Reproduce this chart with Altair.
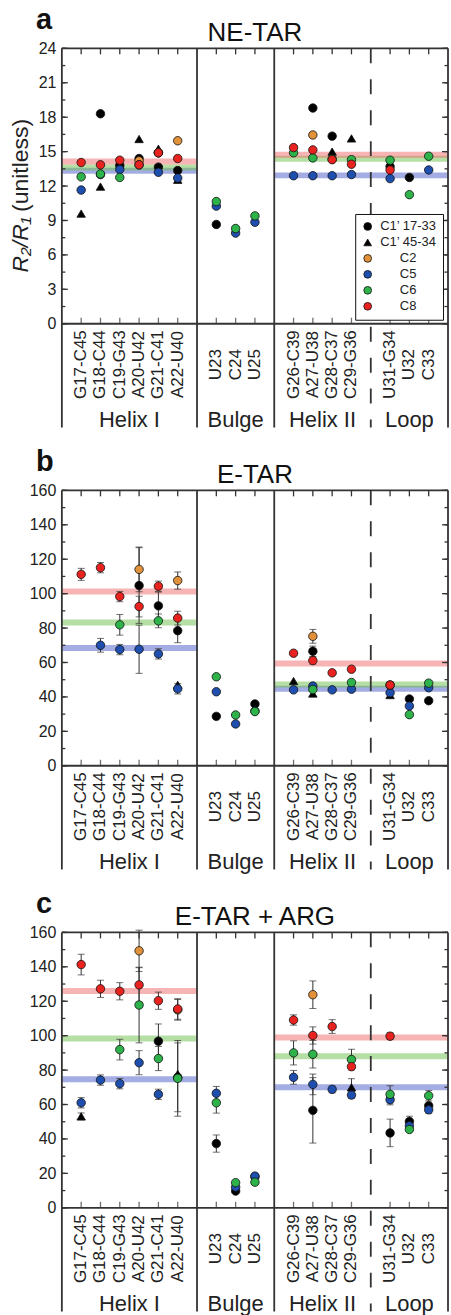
import altair as alt
import pandas as pd

FONT = "Liberation Sans"
N = None

CATEGORIES = ["G17-C45", "G18-C44", "C19-G43", "A20-U42", "G21-C41", "A22-U40",
              "U23", "C24", "U25",
              "G26-C39", "A27-U38", "G28-C37", "C29-G36",
              "U31-G34", "U32", "C33"]
POSITIONS = [1, 2, 3, 4, 5, 6, 8, 9, 10, 12, 13, 14, 15, 17, 18, 19]
GROUPS = ["Helix I", "Bulge", "Helix II", "Loop"]
GROUP_CENTERS = [3.5, 9, 13.5, 18]
SOLID_DIVIDERS = [0, 7, 11, 20]
DASHED_DIVIDERS = [16]
SEGMENT_STARTS = [0, 11]
SEGMENT_ENDS = [7, 20]

SERIES = ["C1\u2019 17-33", "C1\u2019 45-34", "C2", "C5", "C6", "C8"]
SERIES_COLORS = ["#000000", "#000000", "#e0913a", "#1f4fae", "#2eb34a", "#e8231f"]
SERIES_SHAPES = ["circle", "triangle-up", "circle", "circle", "circle", "circle"]
MEAN_SERIES = ["C5", "C6", "C8"]
MEAN_COLORS = ["#4a5cc8", "#6cc04a", "#f06a6a"]

# ---------------- Panel a: NE-TAR ----------------
A_BLACK = [N, 18.3, 13.8, 14.4, 13.65, 13.35, 8.65, N, N, N, 18.8, 16.35, N, 13.7, 12.75, N]
A_TRI = [9.6, 11.95, N, 16.1, 15.25, 12.55, N, N, N, N, N, 15.0, 16.15, N, N, N]
A_C2 = [N, N, N, 14.2, 14.9, 15.95, N, N, N, N, 16.45, N, N, N, N, N]
A_C5 = [11.65, 13.0, 13.45, 13.85, 13.2, 12.7, 10.25, 7.9, 8.85, 12.9, 12.9, 12.9, 13.0, 12.65, N, 13.4]
A_C6 = [12.8, 13.05, 12.75, N, 14.9, N, 10.65, 8.3, 9.4, 14.9, 14.45, 14.35, 14.3, 14.25, 11.25, 14.6]
A_C8 = [14.05, 13.85, 14.25, 13.85, 14.9, 14.4, N, N, N, 15.35, 15.15, 14.3, 13.9, 13.4, N, N]
A_ZERO = [0] * 16
A_MEAN_C5 = [13.33, 12.93]
A_MEAN_C6 = [13.62, 14.38]
A_MEAN_C8 = [14.14, 14.72]

# ---------------- Panel b: E-TAR ----------------
B_BLACK = [N, N, N, 104.7, 92.9, 78.5, 28.7, N, 35.9, N, 66.5, N, N, N, 38.8, 37.8]
B_BLACK_ERR = [0, 0, 0, 22, 8, 7, 0, 0, 0, 0, 3, 0, 0, 0, 0, 0]
B_TRI = [N, N, N, N, N, 47.0, N, N, N, 49.2, 42.0, N, N, 41.1, N, N]
B_TRI_ERR = [0] * 16
B_C2 = [N, N, N, 114.1, N, 107.6, N, N, N, N, 75.2, N, N, N, N, N]
B_C2_ERR = [0, 0, 0, 13, 0, 5, 0, 0, 0, 0, 4, 0, 0, 0, 0, 0]
B_C5 = [N, 70.0, 67.5, 67.7, 65.0, 44.7, 43.0, 24.3, 31.8, 44.1, 46.3, 44.1, 44.5, 42.4, 34.7, 45.3]
B_C5_ERR = [0, 4, 3, 14, 3, 3, 0, 0, 0, 0, 0, 0, 0, 0, 0, 0]
B_C6 = [N, N, 81.9, N, 84.2, N, 51.7, 29.5, 31.5, N, 44.3, N, 48.4, 46.9, 29.7, 48.0]
B_C6_ERR = [0, 0, 6, 0, 4, 0, 0, 0, 0, 0, 0, 0, 0, 0, 0, 0]
B_C8 = [111.2, 115.1, 98.3, 92.5, 104.3, 85.8, N, N, N, 65.4, 61.1, 54.0, 56.1, 46.9, N, N]
B_C8_ERR = [3.5, 3, 3, 6, 3, 4, 0, 0, 0, 0, 2, 0, 0, 2, 0, 0]
B_MEAN_C5 = [68.4, 44.8]
B_MEAN_C6 = [83.3, 47.2]
B_MEAN_C8 = [101.2, 59.4]

# ---------------- Panel c: E-TAR + ARG ----------------
C_BLACK = [N, N, N, N, 96.8, 75.8, 37.3, 9.7, 18.0, N, 56.6, N, N, 43.5, 50.2, 59.3]
C_BLACK_ERR = [0, 0, 0, 0, 10, 20, 5, 0, 0, 0, 19, 0, 0, 8, 3, 0]
C_TRI = [53.1, N, N, N, N, 77.8, N, N, N, N, N, N, 70.0, N, N, N]
C_TRI_ERR = [2, 0, 0, 0, 0, 0, 0, 0, 0, 0, 0, 0, 5, 0, 0, 0]
C_C2 = [N, N, N, 149.3, N, 115.0, N, N, N, N, 123.8, N, N, N, N, N]
C_C2_ERR = [0, 0, 0, 12, 0, 6, 0, 0, 0, 0, 8, 0, 0, 0, 0, 0]
C_C5 = [61.0, 74.2, 72.1, 84.3, 65.9, N, 66.5, 12.0, 18.4, 75.8, 71.7, 68.8, 65.5, 62.8, 47.6, 56.9]
C_C5_ERR = [3, 3, 3, 7, 3, 0, 4, 0, 0, 4, 6, 2, 2, 3, 2, 2]
C_C6 = [N, N, 91.9, 117.8, 86.7, 75.2, 61.0, 14.6, 14.9, 90.0, 89.2, N, 86.1, 65.9, 45.5, 65.1]
C_C6_ERR = [0, 0, 6, 22, 7, 22, 6, 0, 0, 7, 8, 0, 6, 5, 0, 3]
C_C8 = [141.3, 127.2, 125.8, 129.5, 120.3, 115.5, N, N, N, 109.1, 100.1, 105.3, 82.0, 99.7, N, N]
C_C8_ERR = [6, 5, 5, 10, 5, 6, 0, 0, 0, 3, 5, 4, 0, 2, 0, 0]
C_MEAN_C5 = [74.7, 70.0]
C_MEAN_C6 = [98.4, 88.1]
C_MEAN_C8 = [126.0, 98.9]

W = 387
H = 380
PLOT_H = 276


def make_panel(name, letter, vals, errs, means, ymax, ymajor, yminor, with_legend, with_ytitle):
    ppu = PLOT_H / ymax
    ymin = -(H - PLOT_H) / ppu
    xscale = alt.Scale(domain=[0, 20], nice=False, zero=False)
    yscale = alt.Scale(domain=[ymin, ymax], nice=False, zero=False)
    yaxis = alt.Axis(values=list(range(0, ymax + 1, ymajor)), title=None, domain=False,
                     ticks=False, tickSize=0, labelPadding=6, labelFontSize=16,
                     labelFont=FONT, labelColor="#222", grid=False, labelFlush=False,
                     labelOverlap=False)

    def X(f):
        return alt.X(f, scale=xscale, axis=None)

    def Y(f):
        return alt.Y(f, scale=yscale, axis=yaxis)

    rows = []
    for s, vl, el in zip(SERIES, vals, errs):
        for cat, pos, v, e in zip(CATEGORIES, POSITIONS, vl, el):
            if v is None:
                continue
            rows.append(dict(pos=pos, series=s, value=v, err=e, lo=v - e, hi=v + e))
    df = pd.DataFrame(rows)
    dferr = df[df["err"] > 0]

    mrows = []
    for s, m in zip(MEAN_SERIES, means):
        for a, b, v in zip(SEGMENT_STARTS, SEGMENT_ENDS, m):
            mrows.append(dict(x=a, x2=b, y=v, series=s))
    dfm = pd.DataFrame(mrows)

    bands = alt.Chart(dfm).mark_rule(strokeWidth=6, opacity=0.5).encode(
        x=X("x:Q"), x2="x2:Q", y=Y("y:Q"),
        stroke=alt.Stroke("series:N", scale=alt.Scale(domain=MEAN_SERIES, range=MEAN_COLORS), legend=None))

    layers = [bands]
    if len(dferr):
        layers.append(alt.Chart(dferr).mark_rule(color="#333", strokeWidth=1).encode(
            x=X("pos:Q"), y=Y("lo:Q"), y2="hi:Q"))
        layers.append(alt.Chart(dferr).mark_tick(color="#333", orient="horizontal", size=7, thickness=1).encode(
            x=X("pos:Q"), y=Y("lo:Q")))
        layers.append(alt.Chart(dferr).mark_tick(color="#333", orient="horizontal", size=7, thickness=1).encode(
            x=X("pos:Q"), y=Y("hi:Q")))

    if with_legend:
        leg = alt.Legend(orient="none", legendX=294, legendY=166, title=None, strokeColor="#111",
                         padding=6, labelFontSize=13, labelFont=FONT, labelColor="#222",
                         symbolSize=60, rowPadding=2, labelAlign="center", labelOffset=34,
                         symbolStrokeColor="#111", symbolStrokeWidth=0.8, fillColor="white")
    else:
        leg = None
    points = alt.Chart(df).mark_point(filled=True, size=72, stroke="#111", strokeWidth=0.8, opacity=1).encode(
        x=X("pos:Q"), y=Y("value:Q"),
        color=alt.Color("series:N", scale=alt.Scale(domain=SERIES, range=SERIES_COLORS), legend=leg),
        shape=alt.Shape("series:N", scale=alt.Scale(domain=SERIES, range=SERIES_SHAPES), legend=leg))
    layers.append(points)

    # frame
    layers.append(alt.Chart(pd.DataFrame({"x": SOLID_DIVIDERS})).mark_rule(color="#333", strokeWidth=1.8).encode(
        x=X("x:Q"), y=alt.value(0), y2=alt.value(H)))
    layers.append(alt.Chart(pd.DataFrame({"x": DASHED_DIVIDERS})).mark_rule(
        color="#333", strokeWidth=1.8, strokeDash=[15, 16]).encode(
        x=X("x:Q"), y=alt.value(0), y2=alt.value(H)))
    layers.append(alt.Chart(pd.DataFrame({"y": [ymax, 0]})).mark_rule(color="#333", strokeWidth=1.8).encode(
        y=Y("y:Q"), x=alt.value(0), x2=alt.value(W)))

    # inside ticks
    majors = pd.DataFrame({"v": list(range(0, ymax + 1, ymajor))})
    minors = pd.DataFrame({"v": [k * yminor for k in range(int(ymax / yminor) + 1)]})
    for x0, x1 in [(0, 6), (W, W - 6)]:
        layers.append(alt.Chart(majors).mark_rule(color="#333", strokeWidth=1.3).encode(
            y=Y("v:Q"), x=alt.value(x0), x2=alt.value(x1)))
    for x0, x1 in [(0, 3.5), (W, W - 3.5)]:
        layers.append(alt.Chart(minors).mark_rule(color="#333", strokeWidth=1.3).encode(
            y=Y("v:Q"), x=alt.value(x0), x2=alt.value(x1)))
    cats = pd.DataFrame({"pos": POSITIONS, "label": CATEGORIES})
    layers.append(alt.Chart(cats).mark_rule(color="#333", strokeWidth=1.3).encode(
        x=X("pos:Q"), y=alt.value(0), y2=alt.value(6)))
    layers.append(alt.Chart(cats).mark_tick(color="#333", orient="vertical", size=6, thickness=1.3, yOffset=-3).encode(
        x=X("pos:Q"), y=alt.datum(0)))

    # category labels
    layers.append(alt.Chart(cats).mark_text(angle=270, align="center", baseline="middle", yOffset=41,
                                            fontSize=17, font=FONT, color="#222").encode(
        x=X("pos:Q"), y=alt.datum(0), text="label:N"))
    groups = pd.DataFrame({"c": GROUP_CENTERS, "g": GROUPS})
    layers.append(alt.Chart(groups).mark_text(baseline="middle", yOffset=96, fontSize=22,
                                              font=FONT, color="#222").encode(
        x=X("c:Q"), y=alt.datum(0), text="g:N"))

    # panel letter and panel name
    layers.append(alt.Chart(pd.DataFrame({"t": [letter]})).mark_text(
        align="left", baseline="alphabetic", fontSize=29, fontWeight="bold", font=FONT, color="#111").encode(
        x=alt.value(-26), y=alt.value(-19), text="t:N"))
    layers.append(alt.Chart(pd.DataFrame({"t": [name]})).mark_text(
        align="center", baseline="alphabetic", fontSize=26, font=FONT, color="#111").encode(
        x=alt.value(W / 2), y=alt.value(-7), text="t:N"))

    if with_ytitle:
        layers.append(alt.Chart(pd.DataFrame({"t": ["R\u2082/R\u2081"]})).mark_text(
            angle=270, align="right", baseline="middle", fontSize=23, fontStyle="italic",
            font=FONT, color="#222").encode(x=alt.value(-41), y=alt.value(169), text="t:N"))
        layers.append(alt.Chart(pd.DataFrame({"t": ["(unitless)"]})).mark_text(
            angle=270, align="left", baseline="middle", fontSize=23,
            font=FONT, color="#222").encode(x=alt.value(-41), y=alt.value(164), text="t:N"))

    return alt.layer(*layers).properties(width=W, height=H)


pa = make_panel("NE-TAR", "a", [A_BLACK, A_TRI, A_C2, A_C5, A_C6, A_C8], [A_ZERO] * 6,
                [A_MEAN_C5, A_MEAN_C6, A_MEAN_C8], 24, 3, 1.5, True, True)
pb = make_panel("E-TAR", "b", [B_BLACK, B_TRI, B_C2, B_C5, B_C6, B_C8],
                [B_BLACK_ERR, B_TRI_ERR, B_C2_ERR, B_C5_ERR, B_C6_ERR, B_C8_ERR],
                [B_MEAN_C5, B_MEAN_C6, B_MEAN_C8], 160, 20, 10, False, False)
pc = make_panel("E-TAR + ARG", "c", [C_BLACK, C_TRI, C_C2, C_C5, C_C6, C_C8],
                [C_BLACK_ERR, C_TRI_ERR, C_C2_ERR, C_C5_ERR, C_C6_ERR, C_C8_ERR],
                [C_MEAN_C5, C_MEAN_C6, C_MEAN_C8], 160, 20, 10, False, False)

chart = alt.vconcat(pa, pb, pc, spacing=18).resolve_scale(
    x="independent", y="independent", color="independent", shape="independent", stroke="independent"
).properties(padding={"left": 10, "top": 5, "right": 0, "bottom": 0}).configure_view(stroke=None)

chart.save("out.html", embed_options={"renderer": "svg", "actions": False})
